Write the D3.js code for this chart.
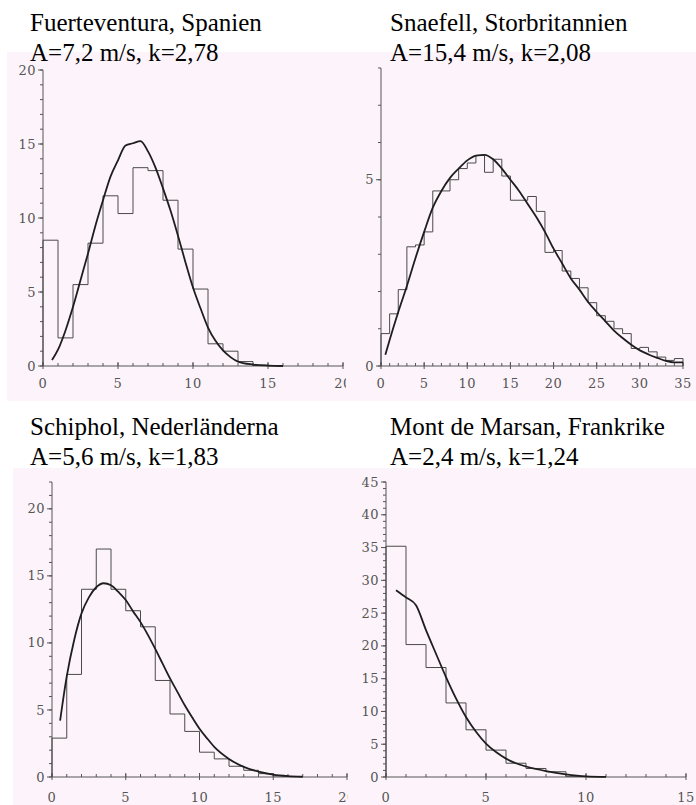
<!DOCTYPE html>
<html><head><meta charset="utf-8">
<script src="https://cdn.jsdelivr.net/npm/d3@7"></script>
<style>body{margin:0;background:#fff}svg{display:block}</style>
</head><body>
<svg id="c" width="696" height="805"></svg>
<script>
// ---------- DATA ----------
const panelTitles = [
  ["Fuerteventura, Spanien", "A=7,2 m/s, k=2,78"],
  ["Snaefell, Storbritannien", "A=15,4 m/s, k=2,08"],
  ["Schiphol, Nederländerna", "A=5,6 m/s, k=1,83"],
  ["Mont de Marsan, Frankrike", "A=2,4 m/s, k=1,24"]
];

// histogram bins of 1 m/s starting at 0 (percent)
const fuertHist = [8.5, 1.9, 5.5, 8.3, 11.5, 10.3, 13.4, 13.2, 11.2, 7.9, 5.2, 1.5, 1.0, 0.3, 0.05];
const fuertCurveX = [0.6, 1, 1.5, 2, 2.5, 3, 3.5, 4, 4.5, 5, 5.5, 6, 6.5, 7, 7.5, 8, 8.5, 9, 9.5, 10, 10.5, 11, 11.5, 12, 12.5, 13, 14, 15, 16];
const fuertCurveY = [0.4, 1.1, 2.4, 4.0, 5.8, 7.6, 9.5, 11.2, 12.8, 13.9, 14.9, 15.05, 15.2, 14.5, 13.4, 12.0, 10.5, 8.8, 7.0, 5.3, 3.9, 2.6, 1.7, 1.05, 0.6, 0.3, 0.1, 0.03, 0];

const snaeHist = [0.87, 1.4, 2.05, 3.2, 3.25, 3.6, 4.7, 4.7, 5.0, 5.3, 5.45, 5.65, 5.2, 5.55, 5.1, 4.45, 4.45, 4.55, 4.15, 3.05, 3.1, 2.55, 2.35, 2.1, 1.7, 1.35, 1.2, 1.0, 0.87, 0.47, 0.5, 0.38, 0.24, 0.15, 0.2];
const snaeCurveX = [0.5, 1, 2, 3, 4, 5, 6, 7, 8, 9, 10, 11, 12, 13, 14, 15, 16, 17, 18, 19, 20, 21, 22, 23, 24, 25, 26, 27, 28, 29, 30, 31, 32, 33, 34, 35];
const snaeCurveY = [0.3, 0.7, 1.45, 2.15, 2.9, 3.6, 4.25, 4.7, 5.05, 5.3, 5.52, 5.65, 5.67, 5.55, 5.3, 5.0, 4.7, 4.35, 4.0, 3.6, 3.15, 2.75, 2.35, 2.05, 1.72, 1.45, 1.2, 0.95, 0.75, 0.57, 0.42, 0.31, 0.22, 0.14, 0.1, 0.1];

const schipHist = [2.9, 7.65, 14.0, 17.0, 14.0, 12.4, 11.2, 7.2, 4.7, 3.4, 1.85, 1.35, 0.8, 0.5, 0.25, 0.08];
const schipCurveX = [0.55, 1, 1.5, 2, 2.5, 3, 3.5, 4, 4.5, 5, 5.5, 6, 6.5, 7, 7.5, 8, 8.5, 9, 9.5, 10, 10.5, 11, 12, 13, 14, 15, 16, 17];
const schipCurveY = [4.2, 7.5, 10.2, 12.2, 13.4, 14.15, 14.45, 14.3, 13.8, 13.2, 12.35, 11.55, 10.6, 9.55, 8.45, 7.35, 6.35, 5.35, 4.45, 3.6, 2.9, 2.25, 1.35, 0.75, 0.4, 0.18, 0.07, 0.02];

const montHist = [35.2, 20.2, 16.7, 11.3, 7.2, 4.1, 2.1, 1.3, 0.8, 0.1];
const montCurveX = [0.5, 1, 1.5, 2, 2.5, 3, 3.5, 4, 4.5, 5, 5.5, 6, 6.5, 7, 8, 9, 10, 11];
const montCurveY = [28.5, 27.4, 26.2, 22.4, 18.8, 15.25, 12.0, 9.15, 6.9, 5.1, 3.8, 2.8, 2.1, 1.6, 0.9, 0.4, 0.1, 0.02];

// tick labels
const xTickLabels20 = [0, 5, 10, 15, 20];
const xTickLabels35 = [0, 5, 10, 15, 20, 25, 30, 35];
const xTickLabels15 = [0, 5, 10, 15];
const yTickLabels20 = [0, 5, 10, 15, 20];
const yTickLabelsSnae = [0, 5];
const yTickLabels45 = [0, 5, 10, 15, 20, 25, 30, 35, 40, 45];

// ---------- LAYOUT ----------
const panels = [
  {title: panelTitles[0], tx: 30, ty: 31, hist: fuertHist, cx: fuertCurveX, cy: fuertCurveY,
   xd: [0, 20], xr: [43, 343], yd: [0, 20], yr: [366, 70], xl: xTickLabels20, yl: yTickLabels20, yTop: 20, clipR: 346, lblDy: 22},
  {title: panelTitles[1], tx: 390, ty: 31, hist: snaeHist, cx: snaeCurveX, cy: snaeCurveY,
   xd: [0, 35], xr: [381, 683], yd: [0, 8], yr: [366, 68], xl: xTickLabels35, yl: yTickLabelsSnae, yTop: 8, clipR: 696, lblDy: 22},
  {title: panelTitles[2], tx: 30, ty: 435, hist: schipHist, cx: schipCurveX, cy: schipCurveY,
   xd: [0, 20], xr: [52, 347], yd: [0, 22], yr: [777, 482], xl: xTickLabels20, yl: yTickLabels20, yTop: 22, clipR: 348, lblDy: 25},
  {title: panelTitles[3], tx: 390, ty: 435, hist: montHist, cx: montCurveX, cy: montCurveY,
   xd: [0, 15], xr: [386, 686], yd: [0, 45], yr: [777, 482], xl: xTickLabels15, yl: yTickLabels45, yTop: 45, clipR: 696, lblDy: 25}
];

const TITLE_FONT = '"Liberation Serif"';
const TICK_FONT = '"DejaVu Serif"';

const svg = d3.select("#c");
const bg = "#fdf4fb";
svg.append("rect").attr("x", 7).attr("y", 52).attr("width", 689).attr("height", 349).attr("fill", bg);
svg.append("rect").attr("x", 13).attr("y", 468).attr("width", 683).attr("height", 337).attr("fill", bg);

const defs = svg.append("defs");

panels.forEach((p, i) => {
  defs.append("clipPath").attr("id", "clip" + i)
    .append("rect").attr("x", 0).attr("y", 0).attr("width", p.clipR).attr("height", 805);
  const g = svg.append("g").attr("clip-path", `url(#clip${i})`);
  const x = d3.scaleLinear().domain(p.xd).range(p.xr);
  const y = d3.scaleLinear().domain(p.yd).range(p.yr);
  const axCol = "#555";

  g.append("line").attr("x1", x(p.xd[0])).attr("x2", x(p.xd[1]))
    .attr("y1", y(0)).attr("y2", y(0)).attr("stroke", axCol).attr("stroke-width", 1);
  g.append("line").attr("x1", x(0)).attr("x2", x(0))
    .attr("y1", y(0)).attr("y2", y(p.yTop)).attr("stroke", axCol).attr("stroke-width", 1);

  d3.range(p.xd[0], p.xd[1] + 1).forEach(v => {
    g.append("line").attr("x1", x(v)).attr("x2", x(v))
      .attr("y1", y(0)).attr("y2", y(0) - 3).attr("stroke", axCol).attr("stroke-width", 1);
  });
  p.xl.forEach(v => {
    g.append("line").attr("x1", x(v)).attr("x2", x(v))
      .attr("y1", y(0) + 3).attr("y2", y(0) - 4).attr("stroke", axCol).attr("stroke-width", 1);
    g.append("text").attr("x", x(v)).attr("y", y(0) + p.lblDy)
      .attr("text-anchor", "middle")
      .style("font-family", TICK_FONT).style("font-size", "13px").style("letter-spacing", "0.5px")
      .attr("fill", "#555").text(v);
  });
  d3.range(0, p.yTop + 1).forEach(v => {
    g.append("line").attr("x1", x(0)).attr("x2", x(0) - 3)
      .attr("y1", y(v)).attr("y2", y(v)).attr("stroke", axCol).attr("stroke-width", 1);
  });
  p.yl.forEach(v => {
    g.append("line").attr("x1", x(0)).attr("x2", x(0) - 5)
      .attr("y1", y(v)).attr("y2", y(v)).attr("stroke", axCol).attr("stroke-width", 1);
    g.append("text").attr("x", x(0) - 7).attr("y", y(v)).attr("dy", "0.35em")
      .attr("text-anchor", "end")
      .style("font-family", TICK_FONT).style("font-size", "13px").style("letter-spacing", "0.5px")
      .attr("fill", "#555").text(v);
  });

  const pts = [[0, 0]];
  p.hist.forEach((v, k) => { pts.push([k, v]); pts.push([k + 1, v]); });
  pts.push([p.hist.length, 0]);
  g.append("path").attr("d", d3.line().x(d => x(d[0])).y(d => y(d[1]))(pts))
    .attr("fill", "none").attr("stroke", "#4a4a4a").attr("stroke-width", 1);

  const cpts = p.cx.map((v, k) => [v, p.cy[k]]);
  g.append("path").attr("d", d3.line().x(d => x(d[0])).y(d => y(d[1])).curve(d3.curveMonotoneX)(cpts))
    .attr("fill", "none").attr("stroke", "#1e1e1e").attr("stroke-width", 1.8);
});

panels.forEach(p => {
  p.title.forEach((t, k) => {
    svg.append("text").attr("x", p.tx).attr("y", p.ty + k * 30)
      .style("font-family", TITLE_FONT).style("font-size", "25px")
      .attr("fill", "#000").text(t);
  });
});
</script>
</body></html>
